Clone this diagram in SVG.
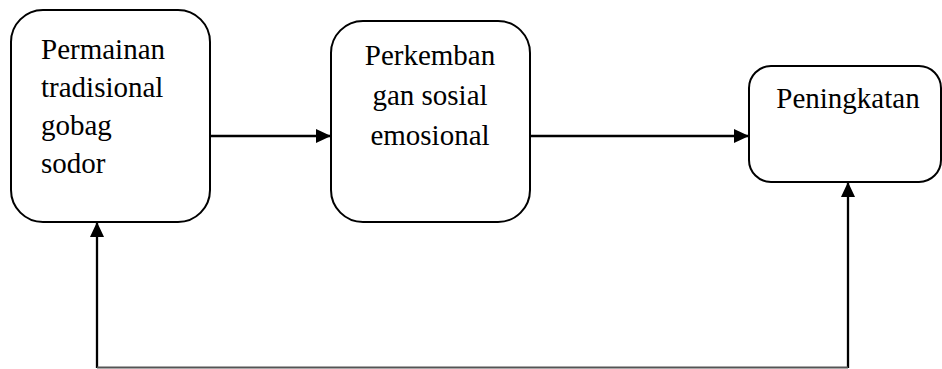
<svg xmlns="http://www.w3.org/2000/svg" width="942" height="369" viewBox="0 0 942 369">
<defs>
<style>
.box{fill:#fff;stroke:#000;stroke-width:2}
text{font-family:'Liberation Serif','Times New Roman',serif;font-size:29px;fill:#000}
.c{stroke:#000;stroke-width:2.3;fill:none}
</style>
<marker id="ah" viewBox="0 0 15 14" refX="15" refY="7" markerWidth="15" markerHeight="14" markerUnits="userSpaceOnUse" orient="auto">
<path d="M0,0 L15,7 L0,14 Z" fill="#000"/>
</marker>
</defs>
<rect width="942" height="369" fill="#fff"/>
<g id="connectors">
<line class="c" x1="210" y1="136" x2="331" y2="136" marker-end="url(#ah)"/>
<line class="c" x1="530" y1="136" x2="749" y2="136" marker-end="url(#ah)"/>
<line class="c" x1="97" y1="368" x2="97" y2="222" marker-end="url(#ah)"/>
<line class="c" x1="848" y1="368" x2="848" y2="182" marker-end="url(#ah)"/>
<line x1="97" y1="367.5" x2="848" y2="367.5" stroke="#555" stroke-width="2"/>
</g>
<g id="node1">
<rect class="box" x="11" y="10" width="199" height="212" rx="32"/>
<text x="41" y="59">Permainan</text>
<text x="41" y="97">tradisional</text>
<text x="41" y="135">gobag</text>
<text x="41" y="173">sodor</text>
</g>
<g id="node2">
<rect class="box" x="331" y="21" width="199" height="201" rx="32"/>
<text x="430" y="65" text-anchor="middle">Perkemban</text>
<text x="430" y="105" text-anchor="middle">gan sosial</text>
<text x="430" y="145" text-anchor="middle">emosional</text>
</g>
<g id="node3">
<rect class="box" x="749" y="66" width="192" height="116" rx="22"/>
<text x="848" y="108" text-anchor="middle">Peningkatan</text>
</g>
</svg>
